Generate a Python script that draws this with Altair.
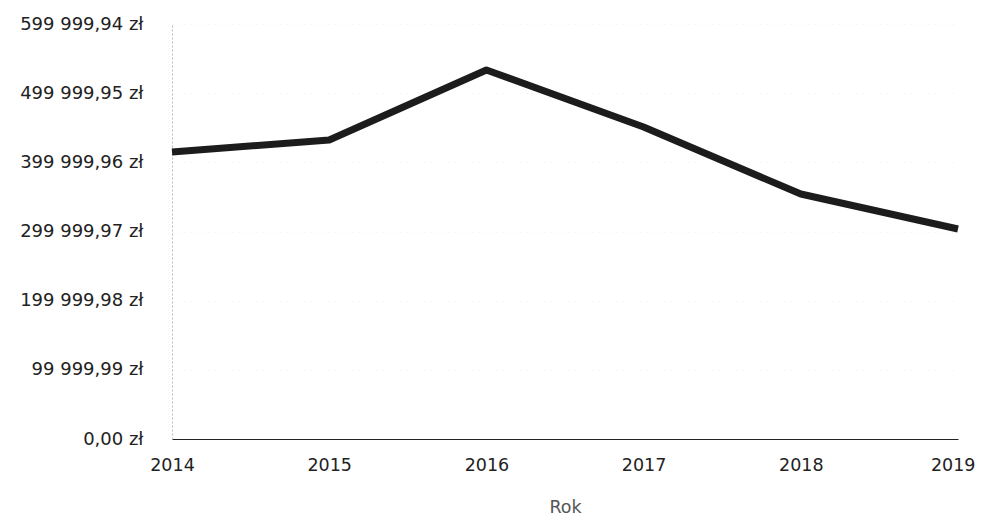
import altair as alt
import pandas as pd

years = ["2014", "2015", "2016", "2017", "2018", "2019"]
values = [415000, 432300, 533500, 451100, 354200, 303600]
y_ticks = [0, 99999.99, 199999.98, 299999.97, 399999.96, 499999.95, 599999.94]

df = pd.DataFrame({"Rok": years, "Kwota": values})

FONT = "DejaVu Sans"

line = alt.Chart(df).mark_line(color="#1c1c1c", strokeWidth=7, strokeJoin="round", strokeCap="butt").encode(
    x=alt.X("Rok:O", title="Rok",
            scale=alt.Scale(type="point", padding=0),
            axis=alt.Axis(labelAngle=0, labelFontSize=17.5, labelColor="#222222", labelPadding=17,
                          labelAlign={"expr": "datum.value == '2019' ? 'right' : 'center'"},
                          labelOffset={"expr": "datum.value == '2019' ? 17 : 0"},
                          ticks=False, domainColor="#222222", domainWidth=1.2,
                          titleFontSize=17.5, titleFontWeight="normal", titleColor="#555555",
                          titlePadding=25, labelFont=FONT, titleFont=FONT)),
    y=alt.Y("Kwota:Q", title=None,
            scale=alt.Scale(domain=[0, 599999.94], nice=False, zero=True),
            axis=alt.Axis(values=y_ticks, format="$,.2f", labelFontSize=18, labelColor="#222222",
                          labelPadding=29, ticks=False, domainColor="#bbbbbb", domainDash=[2, 2],
                          grid=True, gridColor="#eeeeee", gridDash=[1, 5],
                          labelFont=FONT)),
)

chart = line.properties(
    width=786, height=415,
    autosize=alt.AutoSizeParams(type="none"),
    padding={"left": 164, "top": 16, "right": 18, "bottom": 77},
).configure(
    locale={"number": {"decimal": ",", "thousands": " ", "grouping": [3], "currency": ["", " zł"]}}
).configure_view(stroke=None)

chart.save("out.html", embed_options={"renderer": "svg", "actions": False})
